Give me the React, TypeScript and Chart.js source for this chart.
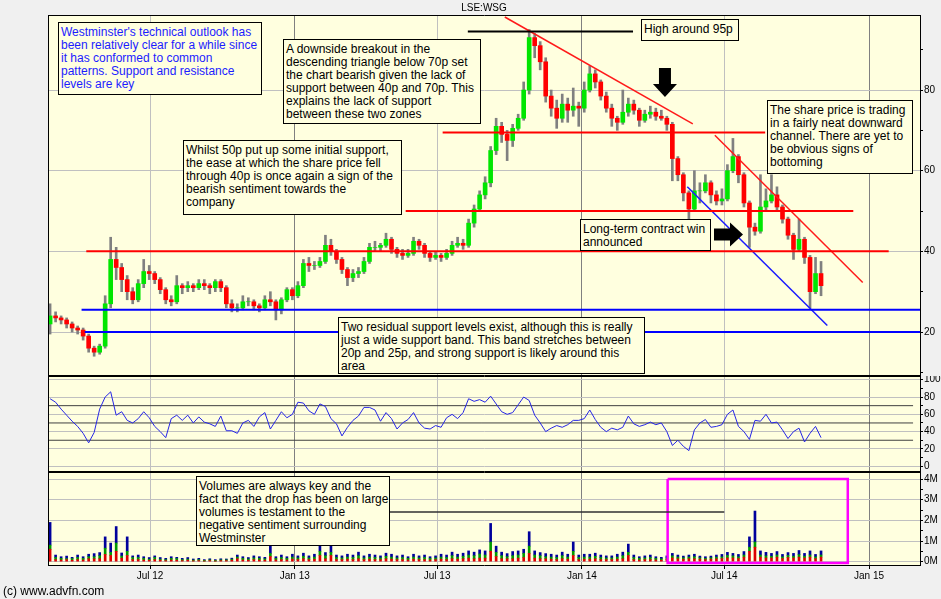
import { useEffect, useRef } from "react";
import { Chart, registerables } from "chart.js";

Chart.register(...registerables);

const FONT = '"Liberation Sans", Arial, sans-serif';
const PLOT_BG = "#ffffdf";
const PAGE_BG = "#f0f0f0";
Chart.defaults.font.family = FONT;

// x values are day numbers counted from 1 Jan 2012; one bar per week
const FIRST_DAY = 55;
const WEEK = 7;
const X_MIN = 53.6;
const X_MAX = 1160.8;

const TICK_DAYS = [182, 366, 547, 731, 912, 1096];
const TICK_LABELS = ["Jul 12", "Jan 13", "Jul 13", "Jan 14", "Jul 14", "Jan 15"];

// weekly price bars (pence)
const OPEN = [
  22, 24, 23.5, 23, 22, 21, 20.5, 19, 16, 15,
  16.5, 27, 38, 36, 33, 30, 28, 32, 35, 34.5,
  33, 30.5, 28, 27.5, 31.5, 31, 31.5, 31, 32, 31.5,
  31, 32.5, 31, 27, 26, 26, 27.5, 27.5, 26.5, 26,
  28, 27.5, 25.5, 28, 30.5, 29, 31.5, 37, 36.5, 36.5,
  37.5, 41.5, 40, 38, 35.5, 33.5, 34.5, 35, 37.5, 41,
  41, 41.5, 43, 40.5, 39.5, 39, 39.5, 42.5, 41.5, 39.5,
  38.5, 39, 38.5, 39.5, 41.5, 42, 41.5, 47, 50.5, 54,
  57, 65, 71, 69, 67.5, 70.5, 73, 80, 93, 91,
  87, 78.5, 75.5, 73, 76.5, 75, 76, 75.5, 80, 84,
  82, 78.5, 75.5, 73, 72, 74.5, 76.5, 75, 72.5, 74,
  74.5, 73.5, 73, 71.5, 63, 59, 54.5, 50.5, 55, 55,
  57, 54, 52.5, 53, 60, 63.5, 59, 52, 46, 45,
  51, 52.5, 54, 51, 48, 44, 40.5, 43, 38.5, 30,
  34.5,
];
const HIGH = [
  27, 25, 24, 23.5, 22.5, 21.5, 21, 19.5, 16.5, 17,
  29, 43.5, 41, 37, 34, 31, 33, 38, 36.5, 35,
  33.5, 31, 29, 34, 32, 32.5, 32, 33, 33, 32,
  33, 33, 31.5, 28, 27, 29, 28.5, 28, 27, 29,
  30, 28, 28.5, 31, 31, 32.5, 38, 38.5, 37.5, 38.5,
  44, 43, 40.5, 38.5, 36, 35.5, 36, 38.5, 42, 42.5,
  42, 44.5, 43.5, 41, 40.5, 40.5, 43.5, 43, 42, 40,
  40, 39.5, 40.5, 42.5, 43.5, 43, 48, 51.5, 55, 58.5,
  66, 73, 72, 70, 71.5, 74, 82, 95, 94, 92,
  88, 80, 77.5, 79, 78, 80.5, 77, 82, 86, 85,
  82.5, 79.5, 76.5, 73.5, 80, 78, 77.5, 75.5, 75, 76,
  75.5, 75, 73.5, 72, 63.5, 59.5, 55, 60, 57, 59,
  57.5, 55, 55.5, 61.5, 68, 64, 59.5, 52.5, 47, 59,
  55.5, 59, 56, 51.5, 48.5, 44.5, 48, 43.5, 39, 38.5,
  37.5,
];
const LOW = [
  19.5, 22.5, 22, 21, 20, 19.5, 18, 15, 14, 14.5,
  16, 26, 33, 30, 28, 27, 27.5, 31, 33, 32,
  29.5, 27, 26.5, 27, 29.5, 30, 30, 30.5, 30.5, 29.5,
  30, 30, 26, 25, 25, 25.5, 26.5, 25.5, 25, 25.5,
  26.5, 23, 24.5, 27.5, 28, 28.5, 31, 35, 35.5, 36,
  37, 39, 37, 34.5, 31.5, 32.5, 33.5, 34.5, 37, 40,
  40, 41, 39.5, 38.5, 38, 38.5, 39, 40.5, 38.5, 37.5,
  38, 37.5, 38, 39, 41, 40.5, 41, 46, 50, 53,
  56, 64, 67, 62.5, 66, 70, 72.5, 79, 88, 85,
  77, 73.5, 70.5, 72, 72, 73.5, 71, 74.5, 79.5, 80.5,
  77.5, 74.5, 71, 70, 71.5, 73.5, 74, 71, 72, 73,
  72.5, 72.5, 70, 57.5, 57.5, 52.5, 48, 50, 52, 54.5,
  52, 51.5, 51.5, 52.5, 59.5, 57, 51, 41, 44, 44.5,
  50, 52, 50, 47, 43, 38, 40, 37, 26, 29.5,
  29,
];
const CLOSE = [
  24, 23.5, 23, 22, 21, 20.5, 19, 16, 15, 16.5,
  27, 38, 36, 33, 30, 28, 32, 35, 34.5, 33,
  30.5, 28, 27.5, 31.5, 31, 31.5, 31, 32, 31.5, 31,
  32.5, 31, 27, 26, 26, 27.5, 27.5, 26.5, 26, 28,
  27.5, 25.5, 28, 30.5, 29, 31.5, 37, 36.5, 36.5, 37.5,
  41.5, 40, 38, 35.5, 33.5, 34.5, 35, 37.5, 41, 41,
  41.5, 43, 40.5, 39.5, 39, 39.5, 42.5, 41.5, 39.5, 38.5,
  39, 38.5, 39.5, 41.5, 42, 41.5, 47, 50.5, 54, 57,
  65, 71, 69, 67.5, 70.5, 73, 80, 93, 91, 87,
  78.5, 75.5, 73, 76.5, 75, 76, 75.5, 80, 84, 82,
  78.5, 75.5, 73, 72, 74.5, 76.5, 75, 72.5, 74, 74.5,
  73.5, 73, 71.5, 63, 59, 54.5, 50.5, 55, 55, 57,
  54, 52.5, 53, 60, 63.5, 59, 52, 46, 45, 51,
  52.5, 54, 51, 48, 44, 40.5, 43, 38.5, 30, 34.5,
  31.5,
];

// RSI, one reading per week
const RSI = [
  78, 74, 66, 59, 52, 46, 38, 27, 39, 66,
  80, 86, 59, 63, 53, 50, 55, 63, 56, 46,
  40, 33, 55, 59, 53, 59, 50, 57, 51, 49,
  46, 58, 41, 41, 38, 50, 53, 46, 57, 62,
  43, 53, 63, 56, 60, 74, 73, 64, 60, 72,
  69, 55, 49, 35, 45, 53, 58, 68, 68, 65,
  52, 62, 55, 43, 50, 54, 62, 50, 44, 43,
  47, 45, 56, 60, 55, 62, 78, 75, 77, 74,
  81, 72, 63, 60, 62, 71, 80, 76, 59, 50,
  40, 44, 47, 45, 48, 53, 53, 55, 65, 54,
  45, 40, 44, 42, 45, 58, 49, 46, 48, 51,
  48, 50, 40, 24, 30, 23, 18, 42, 50, 54,
  45, 46, 48, 60, 65, 46, 40, 31, 53, 52,
  60, 50, 51, 42, 32, 40, 44, 28, 38, 46,
  33,
];

// volume in millions of shares, split the way the bars are coloured
const VOL_SELL = [
  0.6, 0.1, 0.08, 0.1, 0.07, 0.1, 0.08, 0.14, 0.14, 0.14,
  0.35, 0.3, 0.5, 0.17, 0.3, 0.1, 0.1, 0.08, 0.07, 0.1,
  0.07, 0.05, 0.08, 0.07, 0.05, 0.07, 0.04, 0.05, 0.03, 0.05,
  0.03, 0.05, 0.05, 0.07, 0.14, 0.08, 0.07, 0.1, 0.08, 0.07,
  0.25, 0.08, 0.1, 0.08, 0.12, 0.1, 0.14, 0.1, 0.12, 0.3,
  0.14, 0.3, 0.1, 0.1, 0.12, 0.1, 0.14, 0.1, 0.12, 0.1,
  0.1, 0.14, 0.12, 0.1, 0.1, 0.08, 0.12, 0.1, 0.1, 0.08,
  0.1, 0.12, 0.1, 0.14, 0.12, 0.14, 0.17, 0.14, 0.17, 0.17,
  0.5, 0.25, 0.14, 0.14, 0.14, 0.17, 0.2, 0.4, 0.17, 0.14,
  0.14, 0.12, 0.1, 0.14, 0.12, 0.3, 0.1, 0.12, 0.12, 0.14,
  0.1, 0.1, 0.1, 0.12, 0.14, 0.3, 0.1, 0.08, 0.1, 0.1,
  0.08, 0.07, 0.1, 0.18, 0.14, 0.12, 0.14, 0.14, 0.12, 0.1,
  0.12, 0.14, 0.15, 0.18, 0.18, 0.15, 0.22, 0.5, 0.7, 0.22,
  0.18, 0.18, 0.22, 0.15, 0.2, 0.18, 0.22, 0.18, 0.22, 0.15,
  0.22,
];
const VOL_BUY = [
  0.2, 0.1, 0.08, 0.05, 0.08, 0.1, 0.08, 0.1, 0.1, 0.15,
  0.3, 0.15, 0.4, 0.1, 0.2, 0.1, 0.1, 0.08, 0.05, 0.1,
  0.05, 0.05, 0.08, 0.08, 0.05, 0.05, 0.04, 0.05, 0.03, 0.04,
  0.03, 0.04, 0.04, 0.05, 0.08, 0.08, 0.06, 0.08, 0.08, 0.07,
  0.15, 0.08, 0.1, 0.08, 0.1, 0.08, 0.12, 0.08, 0.1, 0.2,
  0.15, 0.15, 0.1, 0.08, 0.1, 0.1, 0.15, 0.08, 0.1, 0.1,
  0.08, 0.12, 0.1, 0.08, 0.1, 0.08, 0.1, 0.08, 0.1, 0.08,
  0.08, 0.1, 0.1, 0.15, 0.1, 0.12, 0.15, 0.15, 0.2, 0.15,
  0.45, 0.2, 0.15, 0.1, 0.15, 0.15, 0.2, 0.35, 0.15, 0.15,
  0.1, 0.1, 0.1, 0.15, 0.1, 0.2, 0.1, 0.1, 0.1, 0.12,
  0.1, 0.08, 0.08, 0.1, 0.15, 0.15, 0.1, 0.08, 0.08, 0.1,
  0.08, 0.07, 0.08, 0.1, 0.08, 0.07, 0.08, 0.1, 0.07, 0.06,
  0.07, 0.08, 0.08, 0.12, 0.1, 0.08, 0.1, 0.2, 0.25, 0.1,
  0.1, 0.08, 0.1, 0.08, 0.1, 0.08, 0.12, 0.08, 0.1, 0.08,
  0.1,
];
const VOL_OTHER = [
  1.1, 0.12, 0.08, 0.12, 0.06, 0.12, 0.08, 0.12, 0.15, 0.15,
  0.55, 0.45, 0.8, 0.15, 0.7, 0.08, 0.12, 0.08, 0.08, 0.08,
  0.08, 0.06, 0.08, 0.06, 0.06, 0.08, 0.05, 0.06, 0.04, 0.05,
  0.04, 0.05, 0.04, 0.05, 0.1, 0.08, 0.07, 0.1, 0.08, 0.07,
  0.5, 0.08, 0.12, 0.08, 0.14, 0.1, 0.15, 0.1, 0.14, 0.4,
  0.15, 0.4, 0.12, 0.1, 0.14, 0.12, 0.17, 0.1, 0.14, 0.12,
  0.1, 0.15, 0.14, 0.1, 0.12, 0.08, 0.14, 0.1, 0.12, 0.08,
  0.1, 0.14, 0.12, 0.17, 0.14, 0.15, 0.2, 0.17, 0.2, 0.2,
  0.9, 0.3, 0.17, 0.15, 0.2, 0.2, 0.2, 0.7, 0.2, 0.15,
  0.15, 0.14, 0.12, 0.17, 0.14, 0.45, 0.12, 0.14, 0.14, 0.15,
  0.12, 0.1, 0.1, 0.14, 0.17, 0.4, 0.12, 0.08, 0.1, 0.12,
  0.08, 0.07, 0.1, 0.12, 0.1, 0.08, 0.1, 0.12, 0.08, 0.08,
  0.08, 0.1, 0.12, 0.15, 0.12, 0.12, 0.17, 0.5, 1.5, 0.2,
  0.17, 0.14, 0.17, 0.12, 0.14, 0.14, 0.2, 0.14, 0.2, 0.12,
  0.2,
];

// drawn-on lines, as [day, value] end points
const HIGH_LINE = [[586, 94.5], [796, 94.5]];
const TRIANGLE_TOP = [[633, 98.1], [872, 71.6]];
const RES_70 = [[554, 69.5], [964, 69.5]];
const RES_50 = [[507, 50], [1076, 50]];
const RES_40 = [[101, 40], [1121, 40]];
const SUP_25 = [[95, 25.5], [1161, 25.5]];
const SUP_20 = [[99, 20], [1161, 20]];
const CHANNEL_TOP = [[900, 68.8], [1088, 32.3]];
const CHANNEL_BOTTOM = [[865, 56], [1043, 21.6]];
const ARROWS = [
  { day: 836.6, price: 78.3, dir: "down" },
  { day: 935.8, price: 44.2, dir: "right" },
];
const RSI_LEVELS = [70, 50, 30];
const RSI_LEVEL_END = 1152;
const VOL_BOX = [[840, 4], [1069, 4], [1069, -0.06], [840, -0.06], [840, 4]];
const VOL_LEADER = [[487, 2.4], [912, 2.4]];

const NOTES = [
  { box: [58, 22, 204, 73], color: "#1c1cff", lines: ["Westminster's technical outlook has", "been relatively clear for a while since", "it has conformed to common", "patterns. Support and resistance", "levels are key"] },
  { box: [283, 39, 198, 85], lines: ["A downside breakout in the", "descending triangle below 70p set", "the chart bearish given the lack of", "support between 40p and 70p. This", "explains the lack of support", "between these two zones"] },
  { box: [183, 140, 219, 75], lines: ["Whilst 50p put up some initial support,", "the ease at which the share price fell", "through 40p is once again a sign of the", "bearish sentiment towards the", "company"] },
  { box: [641, 19, 98, 22], lines: ["High around 95p"] },
  { box: [767, 100, 146, 74], lines: ["The share price is trading", "in a fairly neat downward", "channel. There are yet to", "be obvious signs of", "bottoming"] },
  { box: [580, 219, 131, 32], lines: ["Long-term contract win", "announced"] },
  { box: [338, 317, 307, 57], lines: ["Two residual support levels exist, although this is really", "just a wide support band. This band stretches between", "20p and 25p, and strong support is likely around this", "area"] },
  { box: [196, 476, 194, 70], lines: ["Volumes are always key and the", "fact that the drop has been on large", "volumes is testament to the", "negative sentiment surrounding", "Westminster"] },
];

const DAYS = CLOSE.map((_, i) => FIRST_DAY + i * WEEK);

const isJan = (v: number) => (TICK_LABELS[TICK_DAYS.indexOf(v)] || "").startsWith("Jan");

function xScale(showLabels: boolean) {
  return {
    type: "linear",
    min: X_MIN,
    max: X_MAX,
    offset: false,
    afterBuildTicks: (s: any) => { s.ticks = TICK_DAYS.map((v) => ({ value: v })); },
    afterFit: (s: any) => { s.height = showLabels ? 33 : 0; s.paddingLeft = 0; s.paddingRight = 0; },
    border: { display: false },
    grid: {
      offset: false,
      color: (c: any) => (isJan(c.tick?.value) ? "#808080" : "#c0c0c0"),
      drawTicks: showLabels,
      tickLength: 3,
      tickColor: "#000",
    },
    ticks: {
      display: showLabels,
      autoSkip: false,
      maxRotation: 0,
      padding: 1,
      color: "#000",
      font: { size: 10 },
      callback: (v: any) => TICK_LABELS[TICK_DAYS.indexOf(Number(v))] ?? "",
    },
  };
}

function yScale(min: number, max: number, ticks: number[], major: (v: number) => boolean, label: (v: number) => string, extra = {}) {
  return {
    type: "linear",
    position: "right",
    min,
    max,
    ...extra,
    afterBuildTicks: (s: any) => { s.ticks = ticks.map((v) => ({ value: v })); },
    afterFit: (s: any) => { s.width = 21; s.paddingTop = 0; s.paddingBottom = 0; },
    border: { display: false },
    grid: {
      color: (c: any) => (major(c.tick?.value) ? "#c0c0c0" : "rgba(0,0,0,0)"),
      tickColor: "#000",
      tickLength: 3,
    },
    ticks: {
      autoSkip: false,
      padding: 1,
      color: "#000",
      font: { size: 10 },
      callback: (v: any) => (major(Number(v)) ? label(Number(v)) : ""),
    },
  };
}

const lineSet = (pts: number[][], color: string, width: number, extra = {}) => ({
  type: "line",
  data: pts.map(([x, y]) => ({ x, y })),
  borderColor: color,
  borderWidth: width,
  pointRadius: 0,
  fill: false,
  order: 0,
  ...extra,
});

// yellow plot area and black frame round each panel
const panelPlugin = {
  id: "panel",
  beforeDraw(chart: any) {
    const { ctx, chartArea: a } = chart;
    ctx.save();
    ctx.fillStyle = PLOT_BG;
    ctx.fillRect(a.left, a.top, a.right - a.left, a.bottom - a.top);
    ctx.restore();
  },
  afterDraw(chart: any) {
    const { ctx, chartArea: a } = chart;
    ctx.save();
    ctx.strokeStyle = "#000";
    ctx.lineWidth = 1;
    ctx.beginPath();
    ctx.moveTo(a.left - 0.5, a.top + 0.5);
    ctx.lineTo(a.right + 0.5, a.top + 0.5);
    ctx.moveTo(a.left - 0.5, a.bottom - 0.5);
    ctx.lineTo(a.right + 0.5, a.bottom - 0.5);
    ctx.moveTo(a.left - 0.5, a.top);
    ctx.lineTo(a.left - 0.5, a.bottom);
    ctx.moveTo(a.right + 0.5, a.top);
    ctx.lineTo(a.right + 0.5, a.bottom);
    ctx.stroke();
    ctx.restore();
  },
};

// the two thick black arrows, tip placed in data units
const arrowPlugin = {
  id: "arrows",
  afterDatasetsDraw(chart: any) {
    const { ctx, scales } = chart;
    const len = 29, head = 13, hw = 12, sw = 6;
    ctx.save();
    ctx.fillStyle = "#000";
    for (const a of ARROWS) {
      const px = scales.x.getPixelForValue(a.day);
      const py = scales.y.getPixelForValue(a.price);
      const pts = [[0, 0], [-hw, -head], [-sw, -head], [-sw, -len], [sw, -len], [sw, -head], [hw, -head]];
      ctx.beginPath();
      pts.forEach(([u, v], k) => {
        const X = a.dir === "down" ? px + u : px + v;
        const Y = a.dir === "down" ? py + v : py + u;
        if (k === 0) ctx.moveTo(X, Y); else ctx.lineTo(X, Y);
      });
      ctx.closePath();
      ctx.fill();
    }
    ctx.restore();
  },
};

const common = {
  responsive: false,
  animation: false,
  events: [],
  plugins: { legend: { display: false }, tooltip: { enabled: false } },
};

function priceConfig(): any {
  return {
    type: "bar",
    data: {
      datasets: [
        lineSet(HIGH_LINE, "#000000", 2),
        lineSet(TRIANGLE_TOP, "#ff1a1a", 1.5),
        lineSet(RES_70, "#ff0000", 2),
        lineSet(RES_50, "#ff0000", 2),
        lineSet(RES_40, "#ff0000", 2),
        lineSet(SUP_25, "#0000ff", 2),
        lineSet(SUP_20, "#0000ff", 2),
        lineSet(CHANNEL_TOP, "#ff1a1a", 1.5),
        lineSet(CHANNEL_BOTTOM, "#1a1aff", 1.5),
        {
          data: DAYS.map((d, i) => ({ x: d, y: [OPEN[i], CLOSE[i]] })),
          backgroundColor: DAYS.map((_, i) => (CLOSE[i] >= OPEN[i] ? "#00e600" : "#ff0000")),
          barThickness: 4,
          grouped: false,
          order: 1,
        },
        {
          data: DAYS.map((d, i) => ({ x: d, y: [LOW[i], HIGH[i]] })),
          backgroundColor: "#808080",
          barThickness: 2,
          grouped: false,
          order: 2,
        },
      ],
    },
    options: {
      ...common,
      layout: { padding: { left: 49, top: 15, right: 0, bottom: 1 } },
      scales: {
        x: xScale(false),
        y: yScale(9.1, 98.6, [10, 20, 30, 40, 50, 60, 70, 80, 90], (v) => v % 20 === 0, (v) => String(v)),
      },
    },
    plugins: [panelPlugin, arrowPlugin],
  };
}

function rsiConfig(): any {
  return {
    type: "line",
    data: {
      datasets: [
        lineSet(DAYS.map((d, i) => [d, RSI[i]]), "#2626e6", 1, { order: 0 }),
        ...RSI_LEVELS.map((v) => lineSet([[X_MIN, v], [RSI_LEVEL_END, v]], "#404040", 1, { order: 1 })),
      ],
    },
    options: {
      ...common,
      layout: { padding: { left: 49, top: 0, right: 0, bottom: 1 } },
      scales: {
        x: xScale(false),
        y: yScale(-6.7, 104.3, [0, 10, 20, 30, 40, 50, 60, 70, 80, 90, 100], (v) => v % 20 === 0, (v) => String(v)),
      },
    },
    plugins: [panelPlugin],
  };
}

function volConfig(): any {
  const bars = (vals: number[], color: string) => ({
    data: DAYS.map((d, i) => ({ x: d, y: vals[i] })),
    backgroundColor: color,
    barThickness: 2,
    grouped: false,
    stack: "vol",
    order: 1,
  });
  return {
    type: "bar",
    data: {
      datasets: [
        bars(VOL_SELL, "#dd0000"),
        bars(VOL_BUY, "#009900"),
        bars(VOL_OTHER, "#00009c"),
        lineSet(VOL_LEADER, "#303030", 1.5, { yAxisID: "note", order: 0 }),
        lineSet(VOL_BOX, "#ff00ff", 2.5, { yAxisID: "note", order: 0 }),
      ],
    },
    options: {
      ...common,
      layout: { padding: { left: 49, top: 0, right: 0, bottom: 0 } },
      scales: {
        x: xScale(true),
        y: yScale(-0.21, 4.34, [0, 0.5, 1, 1.5, 2, 2.5, 3, 3.5, 4], (v) => Number.isInteger(v), (v) => `${v}M`, { stacked: true }),
        note: { type: "linear", display: false, min: -0.21, max: 4.34 },
      },
    },
    plugins: [panelPlugin],
  };
}

function Note({ box, lines, color }: { box: number[]; lines: string[]; color?: string }) {
  const [left, top, width, height] = box;
  return (
    <div
      style={{
        position: "absolute",
        left,
        top,
        width,
        height,
        boxSizing: "border-box",
        border: "1px solid #000",
        background: PLOT_BG,
        color: color || "#000",
        fontSize: 12,
        lineHeight: "13px",
        padding: "3px 0 0 2px",
        whiteSpace: "nowrap",
      }}
    >
      {lines.map((l) => (
        <div key={l}>{l}</div>
      ))}
    </div>
  );
}

export default function App() {
  const priceRef = useRef<HTMLCanvasElement>(null);
  const rsiRef = useRef<HTMLCanvasElement>(null);
  const volRef = useRef<HTMLCanvasElement>(null);

  useEffect(() => {
    document.body.style.margin = "0";
    const charts = [
      new Chart(priceRef.current!, priceConfig()),
      new Chart(rsiRef.current!, rsiConfig()),
      new Chart(volRef.current!, volConfig()),
    ];
    return () => charts.forEach((c) => c.destroy());
  }, []);

  const canvasStyle = (top: number) => ({ position: "absolute" as const, left: 0, top });

  return (
    <div style={{ position: "relative", width: 941, height: 599, background: PAGE_BG, overflow: "hidden", fontFamily: FONT }}>
      <canvas ref={priceRef} width={941} height={377} style={canvasStyle(0)} />
      <canvas ref={rsiRef} width={941} height={97} style={canvasStyle(376)} />
      <canvas ref={volRef} width={941} height={127} style={canvasStyle(472)} />
      <div style={{ position: "absolute", left: 434, top: 2, width: 100, textAlign: "center", fontSize: 10, lineHeight: "12px" }}>
        LSE:WSG
      </div>
      {NOTES.map((n) => (
        <Note key={n.lines[0]} box={n.box} lines={n.lines} color={n.color} />
      ))}
      <div style={{ position: "absolute", left: 3, top: 584, fontSize: 12, lineHeight: "14px" }}>(c) www.advfn.com</div>
    </div>
  );
}
